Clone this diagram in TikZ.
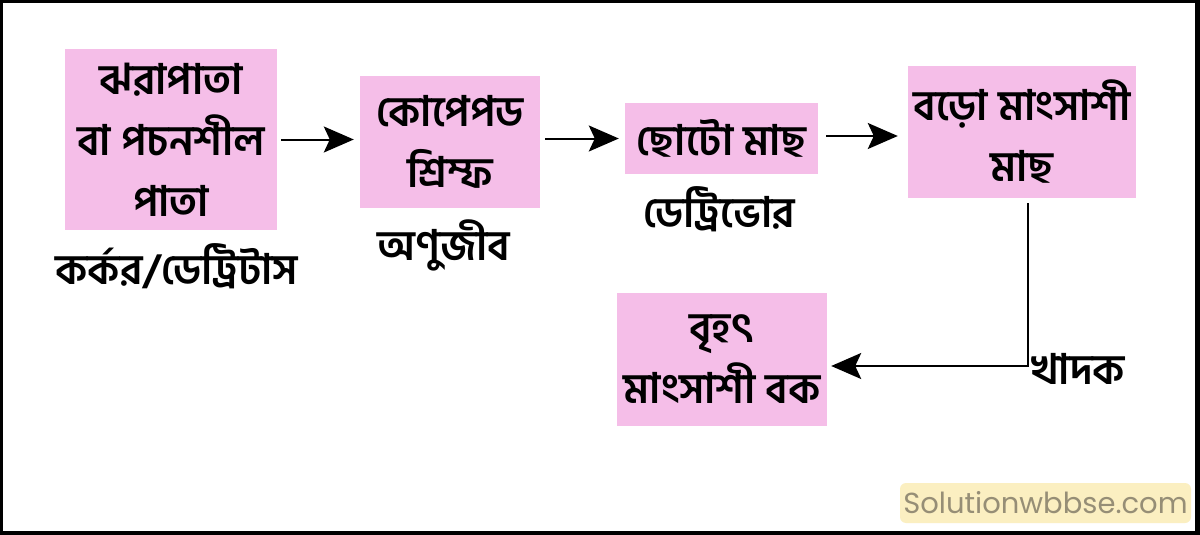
\documentclass[tikz,border=0pt]{standalone}
\usepackage{fontspec}
\usetikzlibrary{arrows.meta}
\newfontfamily\bangla[Script=Bengali]{Hind Siliguri}
\newfontfamily\wmfont{Poppins}
\definecolor{boxpink}{RGB}{245,190,232}
\definecolor{wmfill}{RGB}{251,239,193}
\definecolor{wmtext}{RGB}{150,142,118}
\tikzset{
  chain/.style={fill=boxpink,inner sep=0pt,align=center,
    font=\bangla\bfseries\fontsize{42}{61}\selectfont},
  tag/.style={inner sep=0pt,font=\bangla\bfseries\fontsize{42}{48}\selectfont},
  feeds/.style={line width=2pt,-{Stealth[length=30pt,width=26pt,inset=6pt]}}}

\begin{document}
\begin{tikzpicture}[x=1pt,y=-1pt]
  % frame
  \fill[black] (0,0) rectangle (1200,535);
  \fill[white] (3,3) rectangle (1195,531);
  % food chain boxes
  \node[chain,minimum width=212pt,minimum height=181pt] (leaf) at (171,139.5)
  {ঝরাপাতা\\বা পচনশীল\\পাতা};
  \node[chain,minimum width=180pt,minimum height=132pt] (copepod) at (450,142)
  {কোপেপড\\শ্রিম্ফ};
  \node[chain,minimum width=193pt,minimum height=71pt] (smallfish) at (721.5,138.5)
  {ছোটো মাছ};
  \node[chain,minimum width=228pt,minimum height=132pt] (bigfish) at (1022,132)
  {বড়ো মাংসাশী\\মাছ};
  \node[chain,minimum width=210pt,minimum height=133pt] (heron) at (722,359.5)
  {বৃহৎ\\মাংসাশী বক};
  % labels under the boxes
  \node[tag] (detritus) at (177,266) {কর্কর/ডেট্রিটাস};
  \node[tag] (micro) at (444,245) {অণুজীব};
  \node[tag] (detritivore) at (719,209) {ডেট্রিভোর};
  \node[tag] (eater) at (1078,369) {খাদক};
  % arrows
  \draw[feeds] ([xshift=4pt]leaf.east) -- ([xshift=-6pt]leaf.east -| copepod.west);
  \draw[feeds] ([xshift=5pt]copepod.east |- smallfish.east) -- ([xshift=-6pt]smallfish.west);
  \draw[feeds] ([xshift=8pt,yshift=2.5pt]smallfish.east)
    -- ([xshift=-10pt,yshift=2.5pt]smallfish.east -| bigfish.west);
  \draw[feeds] ([xshift=6pt,yshift=-5pt]bigfish.south) |- ([xshift=4pt,yshift=-6.5pt]heron.east);
  % watermark
  \node[fill=wmfill,rounded corners=6pt,minimum width=279pt,minimum height=40pt,
    font=\wmfont\fontsize{29}{30}\selectfont,text=wmtext] (site) at (1045.5,503)
  {Solutionwbbse.com};
\end{tikzpicture}
\end{document}
